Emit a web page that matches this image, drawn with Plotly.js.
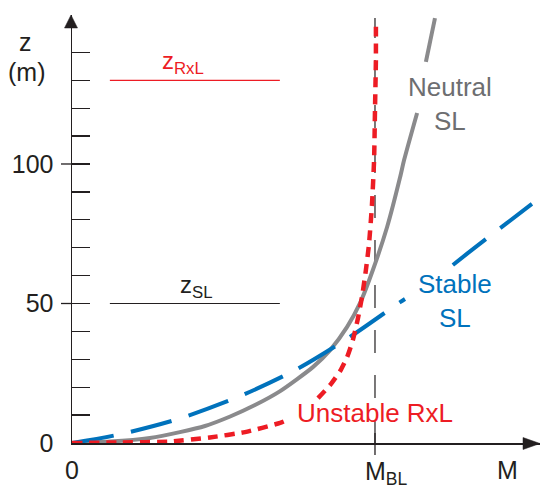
<!DOCTYPE html>
<html><head><meta charset="utf-8">
<script src="https://cdn.plot.ly/plotly-3.0.1.min.js"></script>
<style>html,body{margin:0;padding:0;background:#fff;} #chart{width:543px;height:490px;}</style>
</head><body><div id="chart"></div>
<script>
// ---- data ----
const MBL = 1;                       // x position of M_BL (units of M_BL)
const yTickVals = [0, 50, 100];
const yTickText = ['0', '50', '100'];
const yMinorVals = [10, 20, 30, 40, 60, 70, 80, 90, 110, 120, 130, 140];
const xTickVals = [0];
const xTickText = ['0'];

const neutralX = [0, 0.125, 0.257, 0.356, 0.439, 0.522, 0.604, 0.687, 0.795, 0.852, 0.908, 0.951, 0.993, 1.040, 1.083, 1.096, 1.139, null, 1.168, 1.198];
const neutralZ = [0, 0.5, 1.8, 3.9, 6.1, 9.5, 13.6, 18.6, 27.2, 33.3, 41.6, 50.2, 62.0, 77.4, 95.3, 101.4, 118.3, null, 136.6, 152.3];

const stableX = [0, 0.149, 0.350, 0.548, 0.743, 0.917, 1.083, 1.099, null, 1.257, 1.320, 1.436, 1.518];
const stableZ = [0, 2.9, 8.6, 16.5, 26.5, 38.0, 50.5, 51.6, null, 63.8, 69.2, 78.9, 85.7];

const unstableX = [0, 0.158, 0.323, 0.455, 0.571, 0.687, 0.710, null, 0.812, 0.852, 0.885, 0.908, 0.927, 0.944, 0.957, 0.970, 0.980, 0.990, 0.997, 1.000, 1.003, 1.003];
const unstableZ = [0, 0.2, 0.5, 2.0, 3.9, 7.2, 8.2, null, 16.1, 20.8, 25.8, 30.8, 36.9, 44.8, 52.3, 62.0, 71.0, 85.3, 101.4, 119.4, 137.3, 151.6];

const zRxL = 130;
const zSL = 50;
const levelX = [0.125, 0.686];

// ---- styling ----
const FONT = 'Liberation Sans, Arial, Helvetica, sans-serif';
const INK = '#231f20';
const RED = '#ed1c24';
const BLUE = '#0072bc';
const GRAY = '#8a8a8c';
const GRAYTXT = '#6d6e71';

const W = 543, H = 490;
const M = {l: 72, r: 3, t: 15, b: 47};
const PW = W - M.l - M.r, PH = H - M.t - M.b;
const XR = [0, 1.5446], YR = [0, 153.4];

const traces = [
  {x: neutralX, y: neutralZ, mode: 'lines', name: 'Neutral SL',
   line: {color: GRAY, width: 4, shape: 'spline', smoothing: 0.6}, hoverinfo: 'skip'},
  {x: stableX, y: stableZ, mode: 'lines', name: 'Stable SL',
   line: {color: BLUE, width: 4, dash: '42px,18px', shape: 'spline', smoothing: 0.8}, hoverinfo: 'skip'},
  {x: unstableX, y: unstableZ, mode: 'lines', name: 'Unstable RxL',
   line: {color: RED, width: 4.5, dash: '10px,7px', shape: 'spline', smoothing: 0.5}, hoverinfo: 'skip'}
];

const px = v => v / PW, py = v => v / PH;
const pyAt = pix => (443 - pix) / PH;   // paper y for a pixel row

const shapes = [
  {type: 'line', xref: 'x', yref: 'y', x0: MBL, x1: MBL, y0: 0, y1: 152.3, layer: 'below',
   line: {color: INK, width: 1.2, dash: '23px,22px'}},
  {type: 'line', xref: 'x', yref: 'paper', x0: MBL, x1: MBL, y0: -py(12), y1: py(10),
   line: {color: INK, width: 1.3}},
  {type: 'line', xref: 'x', yref: 'y', x0: levelX[0], x1: levelX[1], y0: zRxL, y1: zRxL,
   line: {color: RED, width: 1.3}},
  {type: 'line', xref: 'x', yref: 'y', x0: levelX[0], x1: levelX[1], y0: zSL, y1: zSL,
   line: {color: INK, width: 1.2}},
  // y axis arrowhead
  {type: 'path', xref: 'paper', yref: 'paper',
   path: `M ${-px(1)} 1 L ${-px(7.5)} ${1 - py(13)} L ${px(5.5)} ${1 - py(13)} Z`,
   fillcolor: INK, line: {color: INK, width: 0.5}},
  // x axis arrowhead
  {type: 'path', xref: 'paper', yref: 'paper',
   path: `M 1 ${-py(0.5)} L ${1 - px(17)} ${py(5.5)} L ${1 - px(17)} ${-py(6.5)} Z`,
   fillcolor: INK, line: {color: INK, width: 0.5}}
];
// outside parts of the major y ticks
yTickVals.filter(v => v > 0).forEach(v => shapes.push({
  type: 'line', xref: 'paper', yref: 'y', x0: -px(11), x1: 0, y0: v, y1: v,
  line: {color: INK, width: 1.3}
}));

const annotations = [
  {xref: 'paper', yref: 'paper', x: -px(47), y: pyAt(42), text: 'z',
   showarrow: false, font: {family: FONT, size: 25, color: INK}, xanchor: 'center', yanchor: 'middle'},
  {xref: 'paper', yref: 'paper', x: -px(46), y: pyAt(72), text: '(m)',
   showarrow: false, font: {family: FONT, size: 25, color: INK}, xanchor: 'center', yanchor: 'middle'},
  {xref: 'x', yref: 'y', x: 1.2475, y: 121.5, text: 'Neutral<br>SL', showarrow: false,
   font: {family: FONT, size: 26, color: GRAYTXT}, xanchor: 'center', yanchor: 'middle'},
  {xref: 'x', yref: 'y', x: 1.264, y: 50.9, text: 'Stable<br>SL', showarrow: false,
   font: {family: FONT, size: 26, color: BLUE}, xanchor: 'center', yanchor: 'middle'},
  {xref: 'x', yref: 'y', x: MBL, y: 10.75, text: 'Unstable RxL', showarrow: false,
   font: {family: FONT, size: 26, color: RED}, xanchor: 'center', yanchor: 'middle'},
  {xref: 'x', yref: 'y', x: 0.366, y: zRxL, text: 'z<sub>RxL</sub>', showarrow: false,
   font: {family: FONT, size: 24, color: RED}, xanchor: 'center', yanchor: 'bottom'},
  {xref: 'x', yref: 'y', x: 0.412, y: zSL, text: 'z<sub>SL</sub>', showarrow: false,
   font: {family: FONT, size: 24, color: INK}, xanchor: 'center', yanchor: 'bottom'},
  {xref: 'x', yref: 'paper', x: MBL, y: -py(30), text: 'M<sub>BL</sub>', showarrow: false,
   font: {family: FONT, size: 25, color: INK}, xanchor: 'left', xshift: -12, yanchor: 'middle'},
  {xref: 'paper', yref: 'paper', x: px(507 - 72), y: -py(27), text: 'M', showarrow: false,
   font: {family: FONT, size: 25, color: INK}, xanchor: 'center', yanchor: 'middle'}
];

const layout = {
  width: W, height: H, margin: M,
  paper_bgcolor: '#fff', plot_bgcolor: 'rgba(0,0,0,0)',
  showlegend: false,
  font: {family: FONT, color: INK},
  xaxis: {range: XR, showgrid: false, zeroline: false, showline: true, linecolor: INK, linewidth: 1.5,
          tickmode: 'array', tickvals: xTickVals, ticktext: xTickText, ticks: '',
          tickfont: {family: FONT, size: 25, color: INK}, ticklabelstandoff: 4, fixedrange: true},
  yaxis: {range: YR, showgrid: false, zeroline: false, showline: true, linecolor: INK, linewidth: 1.5,
          tickmode: 'array', tickvals: yTickVals, ticktext: yTickText,
          ticks: 'inside', ticklen: 18, tickwidth: 1.3, tickcolor: INK,
          minor: {tickmode: 'array', tickvals: yMinorVals, ticks: 'inside', ticklen: 18, tickwidth: 1.3, tickcolor: INK},
          tickfont: {family: FONT, size: 25, color: INK}, ticklabelstandoff: 12, fixedrange: true},
  shapes: shapes,
  annotations: annotations
};

Plotly.newPlot('chart', traces, layout, {displayModeBar: false, staticPlot: true});
</script>
</body></html>
